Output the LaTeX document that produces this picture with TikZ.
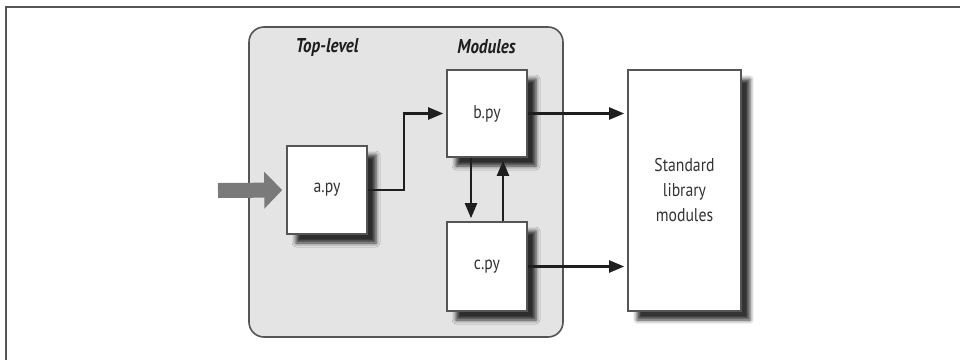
\documentclass[tikz,border=0pt]{standalone}
\usepackage{fontspec}
\setmainfont{PT Sans}[FakeStretch=0.85]
\usetikzlibrary{arrows.meta,shadows.blur}
\definecolor{edgegray}{HTML}{555555}
\definecolor{regiongray}{HTML}{E4E4E4}
\definecolor{biggray}{HTML}{7A7A7A}
\definecolor{linkblack}{HTML}{1E1E1E}
\definecolor{labeltext}{HTML}{333333}
\begin{document}
\begin{tikzpicture}[x=1pt,y=-1pt,
  modbox/.style={draw=edgegray, line width=1.6pt, fill=white, inner sep=0pt,
    minimum width=80pt, align=center, text=labeltext, font=\fontsize{18.5}{25}\selectfont,
    blur shadow={shadow xshift=9pt, shadow yshift=-9pt, shadow blur radius=4pt, shadow opacity=80}},
  region/.style={draw=edgegray, line width=1.6pt, fill=regiongray, rounded corners=15pt},
  heading/.style={font=\fontsize{20}{22}\selectfont\bfseries\itshape, text=linkblack},
  link/.style={draw=linkblack, line width=2.2pt, -{Triangle[length=15pt,width=12pt]}, shorten >=3pt},
  entry/.style={draw=biggray, line width=15pt, -{Triangle[length=18pt,width=36pt]}, shorten >=4pt}
]
\useasboundingbox (0,0) rectangle (960,359);
% page frame fragment
\draw[edgegray, line width=2pt] (5.5,362) -- (5.5,6.5) -- (963,6.5);
% grey region
\draw[region] (249,27) rectangle (563,337);
\node[heading] (toplevel) at (327,47) {Top-level};
\node[heading] (modules) at (486.5,47) {Modules};
% boxes
\node[modbox, minimum height=88pt] (a) at (327,190) {a.py};
\node[modbox, minimum height=87pt] (b) at (487,113.5) {b.py};
\node[modbox, minimum height=89pt] (c) at (487,266.5) {c.py};
\node[modbox, minimum width=113pt, minimum height=241pt] (std) at (684.5,190.5) {Standard\\library\\modules};
% connectors
\coordinate (start) at (218,190.5);
\draw[entry] (start) -- (a.west);
\draw[link] (a.east) -- ++(36,0) |- (b.west);
\draw[link] ([xshift=-16pt]b.south) -- ([xshift=-16pt]c.north);
\draw[link] ([xshift=16pt]c.north) -- ([xshift=16pt]b.south);
\draw[link] (b.east) -- (b.east -| std.west);
\draw[link] (c.east) -- (c.east -| std.west);
\end{tikzpicture}
\end{document}
